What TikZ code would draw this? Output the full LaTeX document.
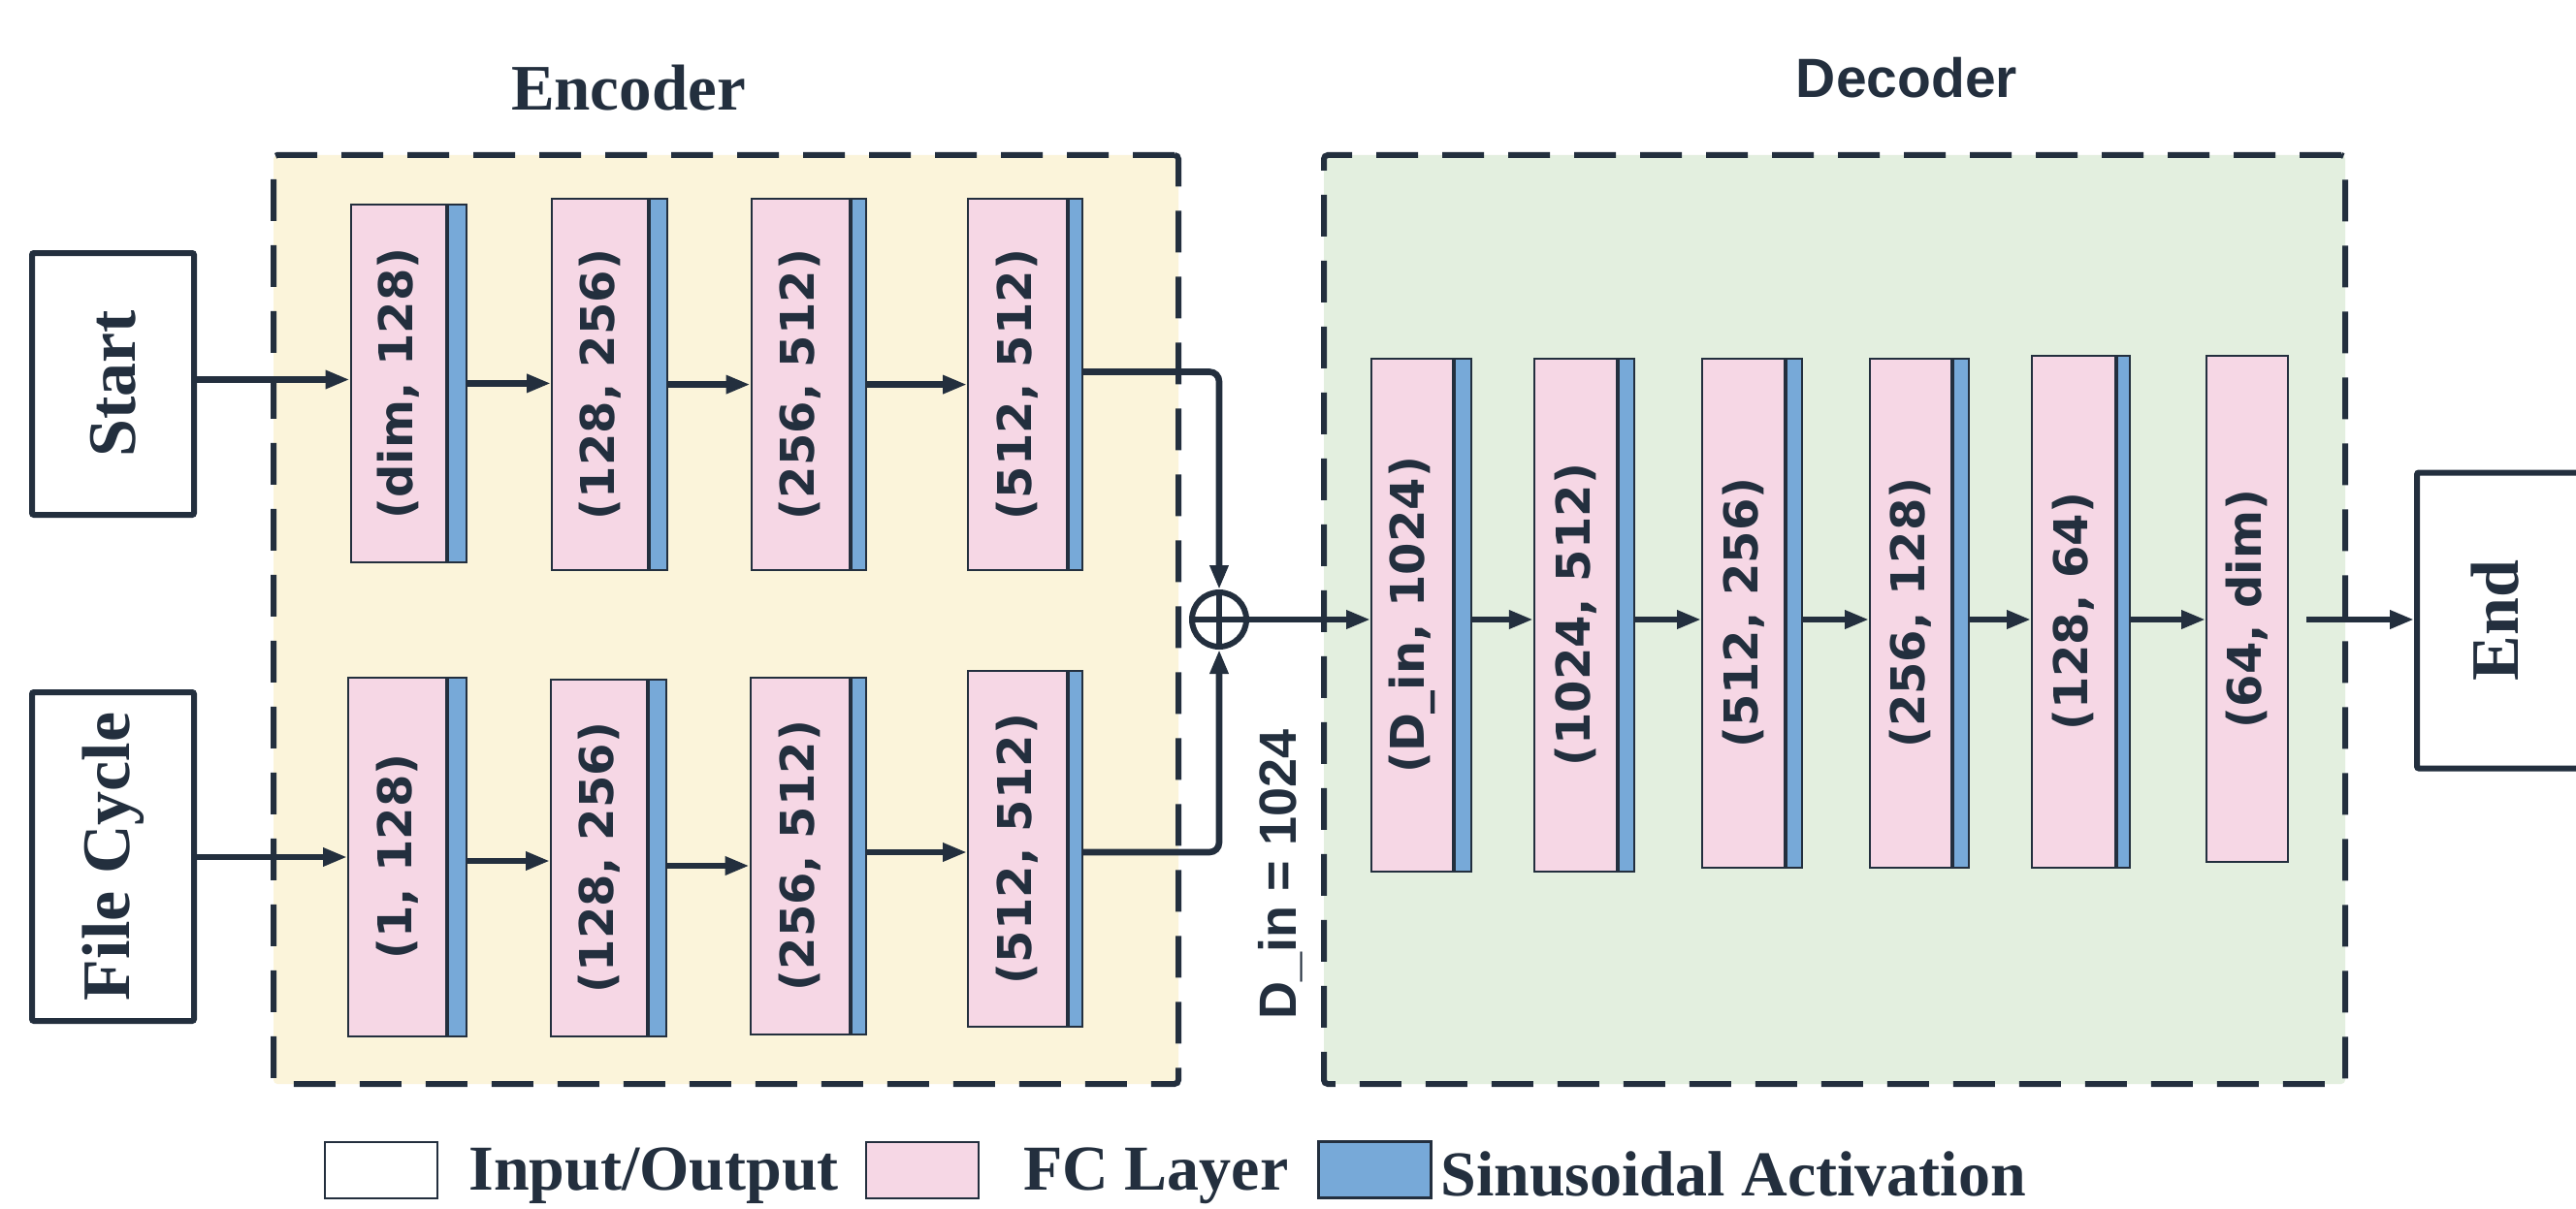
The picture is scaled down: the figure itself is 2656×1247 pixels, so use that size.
\documentclass[tikz,border=0pt]{standalone}
\usepackage{fontspec}
\setmainfont{Liberation Serif}
\newfontfamily\layerfont{DejaVu Sans}
\newfontfamily\headsans{Liberation Sans}
\usetikzlibrary{arrows.meta,positioning}

\definecolor{ink}{HTML}{232F3E}
\definecolor{encfill}{HTML}{FBF4DA}
\definecolor{decfill}{HTML}{E3EFDF}
\definecolor{fcpink}{HTML}{F6D7E5}
\definecolor{sinblue}{HTML}{77A9D8}

% one fully connected layer: pink body, blue activation strip, rotated label
% #1 name, #2 x, #3 y, #4 width, #5 height, #6 strip width, #7 label
\newcommand{\fcunit}[7]{%
  \node[fcbox, minimum width=#4, minimum height=#5] (p#1) at (#2,#3) {};
  \node[sinbox, minimum width=#6, minimum height=#5, anchor=west] (b#1) at (p#1.east) {};
  \node[lbl] (t#1) at (p#1) {#7};
}

\tikzset{
  fcbox/.style={draw=ink, line width=1pt, fill=fcpink, inner sep=0pt},
  sinbox/.style={draw=ink, line width=1pt, fill=sinblue, inner sep=0pt},
  lbl/.style={rotate=90, text=ink, inner sep=0pt,
    font=\layerfont\bfseries\fontsize{24pt}{28pt}\selectfont},
  iobox/.style={draw=ink, line width=3pt, fill=white, inner sep=0pt, rounded corners=1pt},
  iotext/.style={rotate=90, text=ink, inner sep=0pt,
    font=\bfseries\fontsize{35pt}{40pt}\selectfont},
  stage/.style={dashed, dash pattern=on 21.5pt off 12.5pt, draw=ink, line width=3pt,
    inner sep=0pt, rounded corners=2pt},
  arr/.style={draw=ink, line width=3.3pt, -{Triangle[length=12.5pt,width=9pt]}},
  legbox/.style={draw=ink, line width=1.3pt, inner sep=0pt,
    minimum width=58pt, minimum height=29pt},
  legtext/.style={anchor=base west, text=ink, inner sep=0pt,
    font=\bfseries\fontsize{33pt}{38pt}\selectfont},
}

\begin{document}
\begin{tikzpicture}[x=0.5pt, y=-0.5pt]
\useasboundingbox (0,0) rectangle (2656,1247);
\fill[white] (0,0) rectangle (2656,1247);

% stage frames
\node[stage, fill=encfill, minimum width=466.5pt, minimum height=479pt] (enc) at (748.5,639) {};
\node[stage, fill=decfill, minimum width=526.5pt, minimum height=479pt] (dec) at (1891.5,639) {};
\node[text=ink, font=\bfseries\fontsize{33.5pt}{38pt}\selectfont] (enctitle) at (648,91) {Encoder};
\node[text=ink, font=\headsans\bfseries\fontsize{28.5pt}{34pt}\selectfont] (dectitle) at (1966,80) {Decoder};

% inputs and output
\node[iobox, minimum width=83.5pt, minimum height=135pt] (start) at (116.5,396) {};
\node[iotext] (starttext) at (start) {Start};
\node[iobox, minimum width=83.5pt, minimum height=169.5pt] (cycle) at (116.5,883.5) {};
\node[iotext] (cycletext) at (cycle) {File Cycle};
\node[iobox, minimum width=83.5pt, minimum height=152.5pt] (endbox) at (2575.5,640) {};
\node[iotext] (endtext) at (2573,640) {End};

% encoder, start branch
\fcunit{E1}{410.75}{395.5}{49.25pt}{184.5pt}{9.5pt}{(dim, 128)}
\fcunit{E2}{618.25}{396.5}{49.25pt}{191.5pt}{9.25pt}{(128, 256)}
\fcunit{E3}{825}{396.5}{50.5pt}{191.5pt}{7.5pt}{(256, 512)}
\fcunit{E4}{1048.75}{396.5}{50.75pt}{191.5pt}{7.25pt}{(512, 512)}

% encoder, file cycle branch
\fcunit{F1}{409.5}{883.7}{50.5pt}{184.9pt}{9.5pt}{(1, 128)}
\fcunit{F2}{617.35}{884.7}{49.35pt}{183.9pt}{9.15pt}{(128, 256)}
\fcunit{F3}{824.6}{882.7}{51pt}{183.9pt}{7.45pt}{(256, 512)}
\fcunit{F4}{1048.75}{875.5}{50.75pt}{183.5pt}{7.25pt}{(512, 512)}

% decoder
\fcunit{D1}{1456.2}{634.35}{42.2pt}{264.65pt}{8.1pt}{(D\_in, 1024)}
\fcunit{D2}{1624.4}{634.35}{42.6pt}{264.65pt}{8pt}{(1024, 512)}
\fcunit{D3}{1797.5}{632.2}{42.5pt}{262.5pt}{8pt}{(512, 256)}
\fcunit{D4}{1970}{632.2}{42pt}{262.5pt}{7.8pt}{(256, 128)}
\fcunit{D5}{2138}{630.85}{43pt}{263.85pt}{6.5pt}{(128, 64)}
\node[fcbox, minimum width=42pt, minimum height=261pt] (pD6) at (2317,628) {};
\node[lbl] (tD6) at (pD6) {(64, dim)};

% concatenation
\node[circle, draw=ink, line width=3pt, minimum size=28pt, inner sep=0pt] (plus) at (1257,639) {};
\draw[ink, line width=3pt] (plus.north) -- (plus.south) (plus.west) -- (plus.east);
\node[rotate=90, text=ink, inner sep=0pt, font=\headsans\bfseries\fontsize{27pt}{32pt}\selectfont]
  (dinlabel) at (1320,902) {D\_in = 1024};

% connector heights
\coordinate (ySE) at (0,391.5);
\coordinate (yE12) at (0,395.4);
\coordinate (yE23) at (0,396.6);
\coordinate (yE34) at (0,396.6);
\coordinate (yE4o) at (0,383.5);
\coordinate (yCF) at (0,884);
\coordinate (yF12) at (0,888);
\coordinate (yF23) at (0,893);
\coordinate (yF34) at (0,879);
\coordinate (yF4o) at (0,879);
\coordinate (d6out) at ([xshift=9pt]pD6.east);

% start branch
\draw[arr] (start.east |- ySE) -- (pE1.west |- ySE);
\draw[arr] (bE1.east |- yE12) -- (pE2.west |- yE12);
\draw[arr] (bE2.east |- yE23) -- (pE3.west |- yE23);
\draw[arr] (bE3.east |- yE34) -- (pE4.west |- yE34);
\draw[arr, rounded corners=5pt] (bE4.east |- yE4o) -| (plus.north);

% file cycle branch
\draw[arr] (cycle.east |- yCF) -- (pF1.west |- yCF);
\draw[arr] (bF1.east |- yF12) -- (pF2.west |- yF12);
\draw[arr] (bF2.east |- yF23) -- (pF3.west |- yF23);
\draw[arr] (bF3.east |- yF34) -- (pF4.west |- yF34);
\draw[arr, rounded corners=5pt] (bF4.east |- yF4o) -| (plus.south);

% decoder chain
\draw[arr] (plus.east) -- (pD1.west |- plus);
\draw[arr] (bD1.east |- plus) -- (pD2.west |- plus);
\draw[arr] (bD2.east |- plus) -- (pD3.west |- plus);
\draw[arr] (bD3.east |- plus) -- (pD4.west |- plus);
\draw[arr] (bD4.east |- plus) -- (pD5.west |- plus);
\draw[arr] (bD5.east |- plus) -- (pD6.west |- plus);
\draw[arr] (d6out |- plus) -- (endbox.west |- plus);

% legend
\node[legbox, fill=white] (legio) at (393,1207) {};
\node[legtext] (legiotext) at (483,1227) {Input/Output};
\node[legbox, fill=fcpink] (legfc) at (951,1207) {};
\node[legtext] (legfctext) at (1055,1227) {FC Layer};
\node[legbox, fill=sinblue] (legsin) at (1417.5,1206.5) {};
\node[legtext] (legsintext) at (1485,1233) {Sinusoidal Activation};
\end{tikzpicture}
\end{document}
